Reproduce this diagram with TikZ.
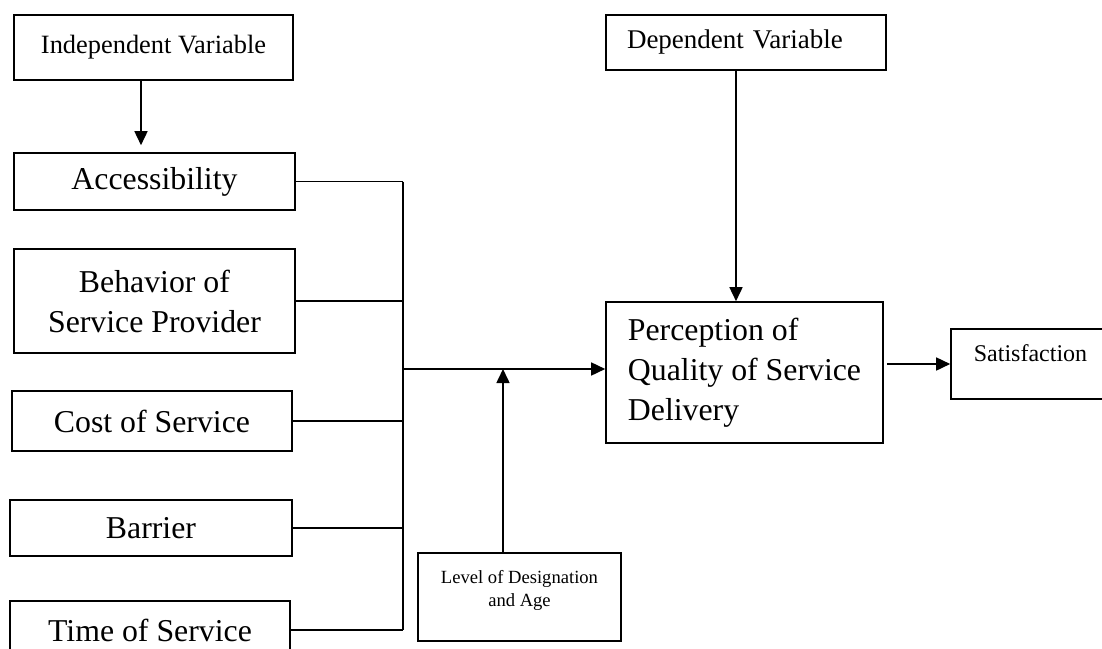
\documentclass[tikz,border=0pt]{standalone}
\usepackage{fontspec}
\setmainfont{Liberation Serif}
\usetikzlibrary{arrows.meta}

\begin{document}
\begin{tikzpicture}[x=0.5pt,y=-0.5pt,
    varbox/.style={draw,line width=0.8pt,inner sep=0pt,align=center,
      font=\fontsize{15.9}{20}\selectfont},
    arrow/.style={-{Triangle[length=7pt,width=6.5pt]},line width=0.8pt},
    link/.style={line width=0.8pt}
  ]
  \useasboundingbox (0,0) rectangle (1102,648);
  % independent side
  \node[varbox,minimum width=139.5pt,minimum height=32.5pt,
    font=\fontsize{13.2}{16}\selectfont] (indep) at (153.5,47.5) {Independent Variable};
  \node[varbox,minimum width=140.5pt,minimum height=28.5pt] (acc) at (154.5,181.5) {Accessibility};
  \node[varbox,minimum width=140.5pt,minimum height=52pt] (behav) at (154.5,301) {Behavior of\\Service Provider};
  \node[varbox,minimum width=140pt,minimum height=30pt] (cost) at (152,421) {Cost of Service};
  \node[varbox,minimum width=141pt,minimum height=28pt] (barr) at (151,528) {Barrier};
  \node[varbox,minimum width=140pt,minimum height=29pt] (time) at (150,630) {Time of Service};
  \node[varbox,minimum width=101.5pt,minimum height=44pt,text height=26.7pt,text depth=17.3pt,
    font=\fontsize{9.3}{11.5}\selectfont] (level) at (519.5,597) {Level of Designation\\and Age};
  % dependent side
  \node[varbox,minimum width=140pt,minimum height=27.5pt,text width=119pt,align=left,
    inner xsep=10.5pt,font=\fontsize{13.5}{16}\selectfont] (dep) at (746,42.5) {Dependent Variable};
  \node[varbox,minimum width=138.5pt,minimum height=70.5pt,align=left] (perc) at (744.5,372.5)
    {Perception of\\Quality of Service\\Delivery};
  \node[varbox,minimum width=79.5pt,minimum height=35pt,text height=8pt,text depth=11pt,
    font=\fontsize{12}{14}\selectfont] (sat) at (1030.5,364) {Satisfaction};
  \coordinate (bus) at (403,369);

  \draw[arrow,shorten >=3.5pt] ([xshift=-6.25pt]indep.south) -- ([xshift=-6.25pt]indep.south |- acc.north);
  \foreach \v in {acc,behav,cost,barr,time}
    \draw[link] (\v.east) -- (\v.east -| bus);
  \draw[link] (acc.east -| bus) -- (time.east -| bus);
  \draw[arrow] (bus) -- (bus -| perc.west);
  \draw[arrow] ([xshift=-8.25pt]level.north) -- ([xshift=-8.25pt]level.north |- bus);
  \draw[arrow] ([xshift=-5pt]dep.south) -- ([xshift=-5pt]dep.south |- perc.north);
  \draw[arrow,shorten <=1.5pt] (perc.east |- sat.west) -- (sat.west);
\end{tikzpicture}
\end{document}
